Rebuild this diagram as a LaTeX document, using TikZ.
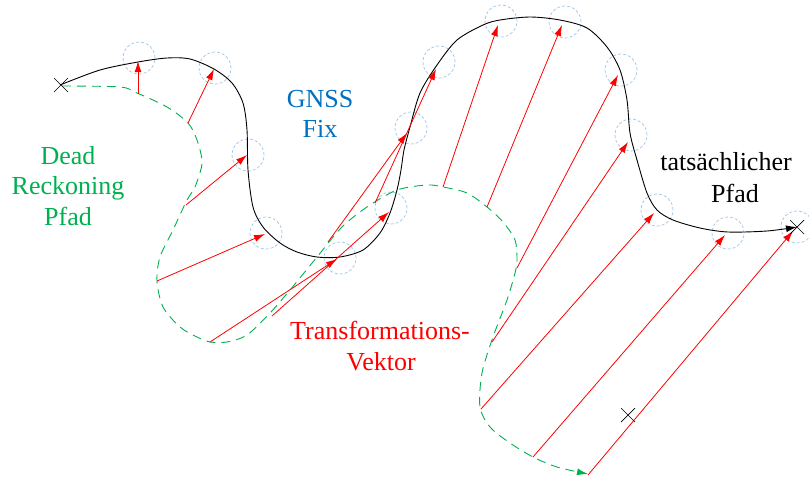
\documentclass[tikz,border=0pt]{standalone}
\usepackage{fontspec}
\setmainfont{Liberation Serif}
\usetikzlibrary{arrows.meta}
\definecolor{rgreen}{HTML}{00B050}
\definecolor{rblue}{HTML}{0070C0}
\definecolor{rred}{HTML}{FF0000}
\definecolor{rcirc}{HTML}{9DC3E6}
\tikzset{
  fixcirc/.style={circle, draw=rcirc, dash pattern=on 3pt off 2pt, line width=0.7pt, minimum size=32pt, inner sep=0pt},
  vec/.style={draw=rred, line width=0.8pt, -{Latex[length=11pt,width=7pt]}},
  truepath/.style={draw=black, line width=0.9pt, -{Latex[length=11pt,width=7pt]}},
  drpath/.style={draw=rgreen, line width=0.9pt, dash pattern=on 9pt off 6pt, -{Latex[length=11pt,width=7pt]}},
  lbl/.style={anchor=base, inner sep=0pt, font=\fontsize{26}{31}\selectfont},
  xmark/.style={draw=black, line width=0.7pt},
}
\begin{document}
\begin{tikzpicture}[x=1pt,y=-1pt]
\useasboundingbox (0,0) rectangle (809,480);
% GNSS fixes
\node[fixcirc] (c1) at (139,58) {};
\node[fixcirc] (c2) at (215,68) {};
\node[fixcirc] (c3) at (248,155) {};
\node[fixcirc] (c4) at (266,233) {};
\node[fixcirc] (c5) at (340,258) {};
\node[fixcirc] (c6) at (391,208) {};
\node[fixcirc] (c7) at (411,128) {};
\node[fixcirc] (c8) at (439,62) {};
\node[fixcirc] (c9) at (501,21) {};
\node[fixcirc] (c10) at (565,22) {};
\node[fixcirc] (c11) at (621,70) {};
\node[fixcirc] (c12) at (631,135) {};
\node[fixcirc] (c13) at (657,210) {};
\node[fixcirc] (c14) at (728,233) {};
\node[fixcirc] (c15) at (797,227) {};
% actual path
\draw[truepath] plot[smooth, tension=0.5] coordinates {(60,85) (100,70) (138,62) (167,58) (190,59) (214,69) (232,83) (243,103) (247,130) (248,170) (253,207) (263,227) (280,243) (297,252) (317,257) (340,257) (363,250) (380,233) (390,213) (397,190) (401,170) (404,150) (410,127) (420,93) (437,65) (457,40) (483,25) (500,20) (530,17) (560,20) (587,28) (607,47) (620,70) (627,100) (630,133) (637,160) (647,193) (657,210) (673,220) (700,228) (728,232) (767,231) (797,227)};
% dead reckoning path
\draw[drpath] plot[smooth, tension=0.5] coordinates {(62,86) (120,87) (137,93) (167,107) (188,123) (197,140) (202,163) (195,187) (187,200) (173,230) (160,257) (157,281) (163,307) (180,327) (197,337) (210,342) (227,342) (247,335) (270,313) (290,290) (317,257) (342,227) (367,207) (397,190) (427,185) (443,187) (467,193) (487,207) (503,222) (515,240) (517,260) (515,273) (507,300) (493,337) (482,373) (480,407) (490,427) (510,443) (533,457) (557,467) (588,474)};
% vector end points
\coordinate (s1) at (138,94);   \coordinate (e1) at (138,61);
\coordinate (s2) at (188,123);  \coordinate (e2) at (214,69);
\coordinate (s3) at (186,205);  \coordinate (e3) at (247,155);
\coordinate (s4) at (157,281);  \coordinate (e4) at (265,234);
\coordinate (s5) at (210,342);  \coordinate (e5) at (337,259);
\coordinate (s6) at (272,316);  \coordinate (e6) at (389,212);
\coordinate (s7) at (328,242);  \coordinate (e7) at (407,133);
\coordinate (s8) at (375,203);  \coordinate (e8) at (436,69);
\coordinate (s9) at (443,187);  \coordinate (e9) at (498,25);
\coordinate (s10) at (487,207); \coordinate (e10) at (562,25);
\coordinate (s11) at (517,268); \coordinate (e11) at (618,75);
\coordinate (s12) at (492,342); \coordinate (e12) at (628,142);
\coordinate (s13) at (481,409); \coordinate (e13) at (654,213);
\coordinate (s14) at (533,457); \coordinate (e14) at (725,235);
\coordinate (s15) at (588,475); \coordinate (e15) at (793,231);
\draw[vec] (s1) -- (e1);
\draw[vec] (s2) -- (e2);
\draw[vec] (s3) -- (e3);
\draw[vec] (s4) -- (e4);
\draw[vec] (s5) -- (e5);
\draw[vec] (s6) -- (e6);
\draw[vec] (s7) -- (e7);
\draw[vec] (s8) -- (e8);
\draw[vec] (s9) -- (e9);
\draw[vec] (s10) -- (e10);
\draw[vec] (s11) -- (e11);
\draw[vec] (s12) -- (e12);
\draw[vec] (s13) -- (e13);
\draw[vec] (s14) -- (e14);
\draw[vec] (s15) -- (e15);
% crosses
\coordinate (xa) at (61,85);
\coordinate (xb) at (797,227);
\coordinate (xc) at (628,415);
\draw[xmark] ([shift={(-7,-7)}]xa) -- ([shift={(7,7)}]xa) ([shift={(-7,7)}]xa) -- ([shift={(7,-7)}]xa);
\draw[xmark] ([shift={(-7,-7)}]xb) -- ([shift={(7,7)}]xb) ([shift={(-7,7)}]xb) -- ([shift={(7,-7)}]xb);
\draw[xmark] ([shift={(-7,-7)}]xc) -- ([shift={(7,7)}]xc) ([shift={(-7,7)}]xc) -- ([shift={(7,-7)}]xc);
% labels
\node[lbl, text=rgreen] (dr1) at (68,164) {Dead};
\node[lbl, text=rgreen] (dr2) at (68,194.5) {Reckoning};
\node[lbl, text=rgreen] (dr3) at (68,225) {Pfad};
\node[lbl, text=rblue] (gn1) at (320,107) {GNSS};
\node[lbl, text=rblue] (gn2) at (320,137) {Fix};
\node[lbl, text=rred] (tv1) at (380,339) {Transformations-};
\node[lbl, text=rred] (tv2) at (381,370) {Vektor};
\node[lbl] (tp1) at (726,170) {tatsächlicher};
\node[lbl] (tp2) at (735,202) {Pfad};
\end{tikzpicture}
\end{document}
